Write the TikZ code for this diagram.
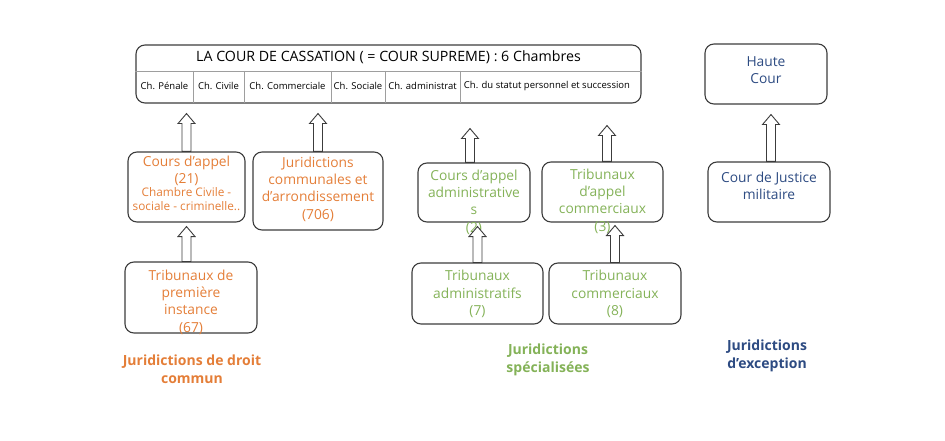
\documentclass[tikz,border=0pt]{standalone}
\usepackage{fontspec}
\setmainfont{Open Sans}
\usetikzlibrary{positioning, calc}
\definecolor{droitorange}{RGB}{228,126,56}
\definecolor{specgreen}{RGB}{132,178,88}
\definecolor{exceptblue}{RGB}{45,75,130}
\definecolor{boxgray}{RGB}{60,60,60}

% hollow block arrow, from foot #1 up to tip #2
\newcommand{\hollowup}[2]{%
  \draw[hollow] ($(#1)+(-4.5,0)$) -- ($(#2)+(-4.5,10)$) -- ($(#2)+(-8.5,10)$) -- (#2)
    -- ($(#2)+(8.5,10)$) -- ($(#2)+(4.5,10)$) -- ($(#1)+(4.5,0)$) -- cycle;}
\newcommand{\smalltxt}{\fontsize{11.8}{13}\selectfont}

\begin{document}
\begin{tikzpicture}[
  x=1pt, y=-1pt,
  jbox/.style={draw=boxgray, line width=1.1pt, rounded corners=9pt, inner sep=0pt},
  jtext/.style={align=center, inner sep=0pt, font=\fontsize{13.8}{17.3}\selectfont},
  cell/.style={inner sep=0pt, font=\fontsize{9.5}{11}\selectfont},
  grouplabel/.style={align=center, inner sep=0pt, font=\bfseries\fontsize{14}{18}\selectfont},
  hollow/.style={draw=boxgray, fill=white, line width=0.9pt, line join=miter}
]
  \useasboundingbox (0,0) rectangle (945,441);

  % Cour de cassation
  \node[jbox, minimum width=505, minimum height=58] (cass) at (388.5,74) {};
  \node[jtext, font=\fontsize{14.2}{16}\selectfont] (cass-title) at (388.5,57)
    {LA COUR DE CASSATION ( = COUR SUPREME) : 6 Chambres};
  \draw[boxgray!50, line width=0.8pt] (cass.west |- 0,71) -- (cass.east |- 0,71);
  \foreach \x in {193,244,331,385,460}
    \draw[boxgray!50, line width=0.8pt] (\x,71) -- (\x,103);
  \node[cell] (ch1) at (164.5,86) {Ch. Pénale};
  \node[cell] (ch2) at (218.5,86) {Ch. Civile};
  \node[cell] (ch3) at (287.5,86) {Ch. Commerciale};
  \node[cell] (ch4) at (358,86) {Ch. Sociale};
  \node[cell] (ch5) at (422.5,86) {Ch. administrat};
  \node[cell] (ch6) at (547,86) {Ch. du statut personnel et succession};

  % droit commun
  \node[jbox, minimum width=117, minimum height=70] (ca) at (186.5,187) {};
  \node[jtext, droitorange] (ca-txt) at (186.5,183)
    {Cours d’appel\\(21)\\[-4pt]\smalltxt Chambre Civile -\\[-4pt]\smalltxt sociale - criminelle..};
  \node[jbox, minimum width=130, minimum height=78] (jc) at (318,191) {};
  \node[jtext, droitorange] (jc-txt) at (318,189)
    {Juridictions\\communales et\\d’arrondissement\\(706)};
  \node[jbox, minimum width=132, minimum height=71] (tpi) at (191,297.5) {};
  \node[jtext, droitorange] (tpi-txt) at (191,302) {Tribunaux de\\première\\instance\\(67)};
  \node[grouplabel, droitorange] (lab-droit) at (192,369) {Juridictions de droit\\commun};

  % juridictions specialisees
  \node[jbox, minimum width=112, minimum height=59] (cad) at (474,192.5) {};
  \node[jtext, specgreen] (cad-txt) at (474,202) {Cours d’appel\\administrative\\s\\(2)};
  \node[jbox, minimum width=121, minimum height=60] (tac) at (602.5,192) {};
  \node[jtext, specgreen] (tac-txt) at (602.5,201) {Tribunaux\\d’appel\\commerciaux\\(3)};
  \node[jbox, minimum width=131, minimum height=61] (ta) at (477.5,293.5) {};
  \node[jtext, specgreen] (ta-txt) at (477.5,294) {Tribunaux\\administratifs\\(7)};
  \node[jbox, minimum width=132, minimum height=61] (tc) at (615,293.5) {};
  \node[jtext, specgreen] (tc-txt) at (615,294) {Tribunaux\\commerciaux\\(8)};
  \node[grouplabel, specgreen] (lab-spec) at (548,360) {Juridictions\\spécialisées};

  % juridictions d'exception
  \node[jbox, minimum width=122, minimum height=60] (hc) at (766,74) {};
  \node[jtext, exceptblue] (hc-txt) at (766,70) {Haute\\Cour};
  \node[jbox, minimum width=122, minimum height=60] (cjm) at (769,192) {};
  \node[jtext, exceptblue] (cjm-txt) at (769,185.5) {Cour de Justice\\militaire};
  \node[grouplabel, exceptblue] (lab-exc) at (767,356) {Juridictions\\d’exception};

  % arrow ends
  \coordinate (ca-tip) at ($(ca.north |- cass.south)+(0,10)$);
  \coordinate (jc-tip) at ($(jc.north |- cass.south)+(0,10)$);
  \coordinate (tpi-foot) at (tpi.north -| ca.north);
  \coordinate (tpi-tip) at ($(ca.south)+(0,4)$);
  \coordinate (cad-foot) at ($(cad.north)+(-4,0)$);
  \coordinate (cad-tip) at ($(cad-foot |- cass.south)+(0,25)$);
  \coordinate (tac-foot) at ($(tac.north)+(4.5,0)$);
  \coordinate (tac-tip) at ($(tac-foot |- cass.south)+(0,22)$);
  \coordinate (ta-tip) at ($(ta.north |- cad.south)+(0,4)$);
  \coordinate (tc-tip) at ($(tc.north |- tac.south)+(0,3)$);
  \coordinate (cjm-foot) at ($(cjm.north)+(2,0)$);
  \coordinate (cjm-tip) at ($(cjm-foot |- hc.south)+(0,10)$);

  \hollowup{ca.north}{ca-tip}
  \hollowup{jc.north}{jc-tip}
  \hollowup{tpi-foot}{tpi-tip}
  \hollowup{cad-foot}{cad-tip}
  \hollowup{tac-foot}{tac-tip}
  \hollowup{ta.north}{ta-tip}
  \hollowup{tc.north}{tc-tip}
  \hollowup{cjm-foot}{cjm-tip}
\end{tikzpicture}
\end{document}
